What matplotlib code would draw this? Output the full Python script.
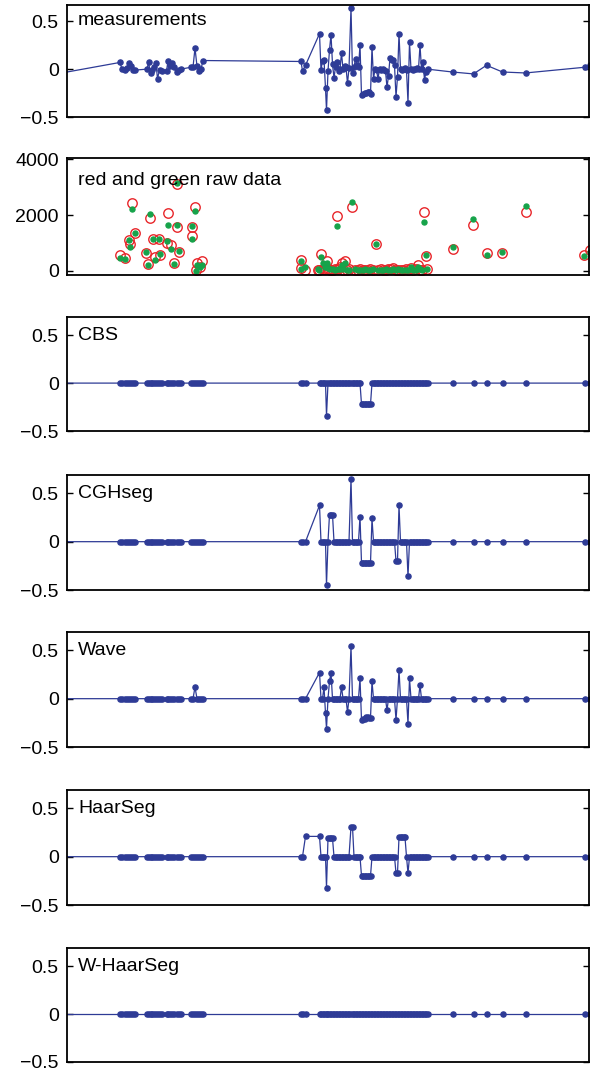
import matplotlib
matplotlib.use("Agg")
import matplotlib.pyplot as plt

plt.rcParams.update({"font.family": "Liberation Sans", "font.size": 14,
                     "axes.linewidth": 1.3})

NAVY, RED, GREEN = "#2e3b96", "#e8262a", "#16a34a"

# probe positions (arbitrary genomic units) and measured log-ratios, one row per probe cluster
probe_pos = [30,
             120, 122, 124.5, 127, 129, 131, 132.5, 135,
             147, 148.5, 150.5, 152, 154, 156, 157.5, 159.5, 162,
             166.5, 168, 170, 172, 174, 176.5, 178.5, 181,
             191, 193, 195, 197, 199, 201, 203,
             301, 302.5, 305.5,
             319.5, 321, 322.5, 324, 325.5, 326.5, 328, 329.5, 331, 332.5,
             334, 335.5, 337, 338.5, 340, 341.5, 343, 344.5, 346, 347.5,
             349, 351, 352.5, 354, 355.5, 357, 358.5, 360,
             361.5, 363, 364.5, 366, 367.5, 369, 370.5,
             372, 373.5, 375, 376.5, 378, 379.5, 381, 382.5, 384, 385.5,
             387, 388.5, 390, 391.5, 393, 394.5, 396, 397.5, 399,
             400.5, 402, 403.5, 405, 406.5, 408, 409.5, 411, 412.5, 414,
             415.5, 417, 418.5, 420, 421.5, 423, 424.5, 426, 427.5,
             452.5, 473.5, 486.5, 502.5, 525.5, 585, 590]
log_ratio = [-0.10,
             0.07, 0.00, -0.01, 0.01, 0.06, 0.03, -0.01, -0.01,
             0.00, 0.07, -0.04, -0.01, 0.02, 0.06, -0.10, -0.01, -0.02,
             -0.02, 0.085, 0.03, 0.06, 0.02, -0.03, -0.01, 0.00,
             0.02, 0.02, 0.22, 0.03, -0.02, 0.00, 0.09,
             0.08, -0.02, 0.04,
             0.37, -0.01, 0.09, 0.10, -0.20, -0.43, -0.02, 0.20, 0.36, 0.05,
             -0.09, 0.02, 0.07, -0.02, 0.00, 0.17, 0.00, 0.03, 0.02, -0.15,
             0.01, 0.64, -0.04, 0.02, 0.11, 0.04, 0.02, 0.25,
             -0.27, -0.26, -0.25, -0.25, -0.24, -0.24, -0.26,
             0.23, -0.10, 0.00, -0.01, -0.10, 0.00, -0.01, 0.00, -0.01, -0.02,
             -0.19, -0.07, 0.12, 0.10, 0.10, 0.04, -0.29, -0.08, 0.37,
             0.00, -0.01, 0.00, 0.01, -0.01, -0.35, 0.28, 0.00, -0.01, 0.00,
             0.00, 0.01, 0.00, 0.25, 0.00, 0.07, -0.11, -0.03, 0.00,
             -0.03, -0.05, 0.04, -0.03, -0.04, 0.02, 0.045]

# raw channel intensities
raw_pos = [120, 124.5, 128.5, 129.5, 131.5, 134.5, 146, 147.5, 150, 152.5, 154.5, 158.5, 160,
           167, 168, 171, 173.5, 176.5, 177, 179, 191.5, 192, 194.5, 196, 197, 200, 201.5,
           300.5, 301, 305, 318, 319, 321, 323, 324.5, 326.5, 327.5, 330, 332.5, 334.5, 336.5,
           338, 340, 341.5, 343, 345, 347, 349, 352, 355, 357.5, 360, 362.5, 365, 367.5, 370,
           373, 375.5, 378, 380.5, 383, 385.5, 388, 390.5, 393, 395.5, 398, 400.5, 403, 405.5,
           408, 410.5, 413, 415.5, 417.5, 420, 422, 423.5, 425.5, 427,
           452.5, 473, 486.5, 502, 525.5, 584, 589.5]
red = [550, 460, 1120, 970, 2420, 1360, 640, 250, 1900, 1150, 490, 1150, 580,
       1000, 2080, 940, 280, 3100, 1560, 670, 1575, 1260, 2300, 40, 280, 130, 335,
       400, 100, 40, 30, 40, 610, 60, 60, 335, 50, 40, 30, 50, 1950,
       60, 120, 280, 40, 335, 30, 70, 2280, 40, 30, 50, 30, 40, 30, 50,
       40, 970, 30, 50, 40, 30, 60, 80, 90, 40, 30, 40, 30, 50,
       40, 90, 30, 60, 215, 40, 30, 2120, 540, 50,
       780, 1630, 640, 640, 2120, 580, 760]
green = [460, 430, 1090, 850, 2220, 1360, 660, 215, 2040, 1140, 400, 1140, 620,
         1060, 1660, 780, 250, 3135, 1660, 695, 1600, 1140, 2140, 10, 220, 155, 215,
         360, 60, 130, 60, 30, 490, 280, 120, 280, 90, 60, 70, 40, 1620,
         80, 60, 200, 50, 277, 40, 30, 2480, 60, 20, 40, 30, 50, 20, 40,
         60, 960, 30, 40, 30, 50, 40, 30, 60, 30, 50, 30, 40, 30,
         40, 120, 40, 30, 155, 50, 40, 1740, 550, 60,
         840, 1870, 580, 660, 2320, 515, 660]

# segmentation results: (first probe, last probe, level); probes outside are at 0
cbs_segments = [(326.5, 326.5, -0.34), (361.5, 370.5, -0.22)]
cghseg_segments = [(319.5, 319.5, 0.375), (326.5, 326.5, -0.45), (329.5, 332.5, 0.28),
                   (351, 351, 0.65), (360, 360, 0.26), (361.5, 370.5, -0.22),
                   (372, 372, 0.24), (396, 397.5, -0.20), (399, 399, 0.375),
                   (408, 408, -0.36)]
wave_segments = [(195, 195, 0.12), (319.5, 319.5, 0.27), (324, 324, 0.12),
                 (325.5, 325.5, -0.15), (326.5, 326.5, -0.31), (329.5, 329.5, 0.18),
                 (331, 331, 0.27), (341.5, 341.5, 0.12), (347.5, 347.5, -0.14),
                 (351, 351, 0.54), (360, 360, 0.21), (361.5, 361.5, -0.22),
                 (363, 364.5, -0.21), (366, 367.5, -0.19), (369, 370.5, -0.20),
                 (372, 372, 0.18), (387, 387, -0.12), (396, 396, -0.22),
                 (399, 399, 0.30), (408, 408, -0.26), (409.5, 409.5, 0.21),
                 (420, 420, 0.14)]
haarseg_segments = [(305.5, 319.5, 0.21), (326.5, 326.5, -0.32), (328, 332.5, 0.19),
                    (351, 352.5, 0.31), (361.5, 370.5, -0.20), (396, 397.5, -0.17),
                    (399, 405, 0.20), (408, 408, -0.17)]
whaarseg_segments = []

methods = [("CBS", cbs_segments), ("CGHseg", cghseg_segments), ("Wave", wave_segments),
           ("HaarSeg", haarseg_segments), ("W-HaarSeg", whaarseg_segments)]


def levels(segs):
    return [next((lv for s, e, lv in segs if s <= p <= e), 0.0) for p in probe_pos]


# panel layout in pixels of the 590x1069 canvas
W, H = 590, 1069
XL, XR = 67, 589
panels = [(5, 117), (158, 275), (317, 431), (475, 590), (632, 747), (790, 905), (948, 1062)]
label_drop = [11, 16.5, 13, 13, 13.5, 13, 13]

fig = plt.figure(figsize=(W / 100, H / 100), dpi=100)
axes = []
for top, bot in panels:
    a = fig.add_axes([XL / W, 1 - bot / H, (XR - XL) / W, (bot - top) / H])
    a.set_xlim(XL, XR)
    a.set_xticks([])
    a.tick_params(axis="y", direction="in", length=4, width=1, left=True, right=True,
                  labelsize=14, pad=6)
    axes.append(a)

# measurements
a = axes[0]
a.plot(probe_pos, log_ratio, "-o", color=NAVY, lw=0.9, ms=3.7)
a.set_ylim(-0.5, 0.67)
a.set_yticks([-0.5, 0, 0.5]); a.set_yticklabels(["\u22120.5", "0", "0.5"])

# raw channels
a = axes[1]
a.plot(raw_pos, red, "o", mfc="none", mec=RED, mew=1.0, ms=6.8)
a.plot(raw_pos, green, "o", color=GREEN, ms=3.6)
a.set_ylim(-150, 4050)
a.set_yticks([0, 2000, 4000])

for a, (name, segs) in zip(axes[2:], methods):
    a.plot(probe_pos, levels(segs), "-o", color=NAVY, lw=0.9, ms=3.7)
    a.set_ylim(-0.5, 0.69)
    a.set_yticks([-0.5, 0, 0.5]); a.set_yticklabels(["\u22120.5", "0", "0.5"])

titles = ["measurements", "red and green raw data"] + [m[0] for m in methods]
for a, t, d in zip(axes, titles, label_drop):
    a.annotate(t, xy=(0, 1), xycoords="axes fraction", xytext=(8, -d),
               textcoords="offset points", ha="left", va="center", fontsize=14)

fig.savefig("out.png", dpi=100)
